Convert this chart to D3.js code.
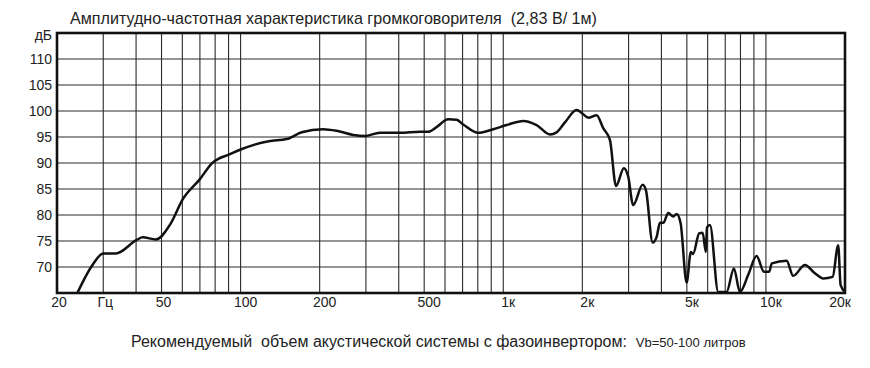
<!DOCTYPE html>
<html>
<head>
<meta charset="utf-8">
<script src="https://cdn.jsdelivr.net/npm/d3@7"></script>
<style>
  body { margin: 0; background: #fff; }
  svg text { font-family: "Liberation Sans", Arial, sans-serif; fill: #222; white-space: pre; }
</style>
</head>
<body>
<svg id="chart"></svg>
<script>
// frequency response, Hz / dB
var freqs = [23.9, 27.3, 30, 33.5, 40.2, 42.4, 47.6, 53.8, 60.2, 70, 77.6, 91.1, 100, 128, 149.7, 170.9,
  206, 232, 268.6, 297, 339, 404, 482, 518, 557, 617, 664, 704, 803, 916, 1030, 1192, 1340, 1506, 1596,
  1717, 1901, 2120, 2267, 2402, 2548, 2687, 2878, 2990, 3124, 3393, 3492, 3704, 3837, 3950, 4070, 4247,
  4437, 4571, 4734, 4989, 5180, 5280, 5573, 5741, 5909, 5965, 6122, 6582, 7082, 7552, 7962, 8563, 9214,
  9826, 10293, 10530, 11985, 12700, 14070, 15360, 16520, 17940, 18840, 19250, 20000];
var levels = [65, 70.4, 72.6, 72.6, 75.2, 75.7, 75.3, 78.1, 83.0, 86.9, 89.9, 91.7, 92.6, 94.2, 94.6, 95.9,
  96.5, 96.2, 95.4, 95.2, 95.8, 95.8, 96.0, 96.0, 96.9, 98.4, 98.3, 97.4, 95.8, 96.5, 97.3, 98.1, 97.3, 95.5, 95.9,
  97.8, 100.2, 98.7, 99.2, 96.7, 94.4, 85.6, 89.0, 87.4, 81.9, 85.8, 84.8, 74.7, 75.8, 78.5, 78.5, 80.4,
  79.7, 80.2, 78.4, 67.0, 72.9, 72.5, 76.5, 76.6, 72.9, 77.6, 78.1, 65.2, 65.2, 69.7, 65.2, 68.5, 72.1,
  69.1, 69.1, 70.7, 71.2, 68.3, 70.4, 68.8, 67.8, 68.1, 74.2, 66.5, 65.2];

var gridFreqs = [30, 40, 50, 60, 70, 80, 90, 100, 200, 300, 400, 500, 600, 700, 800, 900, 1000,
  2000, 3000, 4000, 5000, 6000, 7000, 8000, 9000, 10000];
var xTicks = [20, 30, 50, 100, 200, 500, 1000, 2000, 5000, 10000, 20000];
var xTickLabels = ["20", "Гц", "50", "100", "200", "500", "1к", "2к", "5к", "10к", "20к"];
var yTicks = [70, 75, 80, 85, 90, 95, 100, 105, 110, 115];
var yTickLabels = ["70", "75", "80", "85", "90", "95", "100", "105", "110", "дБ"];

var width = 870, height = 368;
var pLeft = 57, pRight = 845, pTop = 33, pBottom = 293;

var svg = d3.select("#chart").attr("width", width).attr("height", height);

var x = d3.scaleLog().domain([20, 20000]).range([pLeft, pRight]);
var y = d3.scaleLinear().domain([65, 115]).range([pBottom, pTop]);

svg.append("text")
   .attr("x", 70).attr("y", 24)
   .attr("font-size", 16.1)
   .text("Амплитудно-частотная характеристика громкоговорителя  (2,83 В/ 1м)");

var grid = svg.append("g").attr("stroke", "#2a2a2a").attr("stroke-width", 1.1);

grid.selectAll("line.v")
    .data(gridFreqs)
    .enter().append("line")
    .attr("class", "v")
    .attr("x1", function(d){ return x(d); }).attr("x2", function(d){ return x(d); })
    .attr("y1", pTop).attr("y2", pBottom);

grid.selectAll("line.h")
    .data(yTicks.slice(0, -1))
    .enter().append("line")
    .attr("class", "h")
    .attr("x1", pLeft).attr("x2", pRight)
    .attr("y1", function(d){ return y(d); }).attr("y2", function(d){ return y(d); });

svg.append("defs").append("clipPath").attr("id", "plot")
   .append("rect").attr("x", pLeft).attr("y", pTop).attr("width", pRight - pLeft).attr("height", pBottom - pTop);

var pts = freqs.map(function(f, i){ return [f, levels[i]]; });
var line = d3.line()
             .x(function(d){ return x(d[0]); })
             .y(function(d){ return y(d[1]); })
             .curve(d3.curveMonotoneX);

svg.append("path")
   .datum(pts)
   .attr("clip-path", "url(#plot)")
   .attr("d", line)
   .attr("fill", "none")
   .attr("stroke", "#111")
   .attr("stroke-width", 2.5)
   .attr("stroke-linejoin", "round");

svg.append("rect")
   .attr("x", pLeft).attr("y", pTop)
   .attr("width", pRight - pLeft).attr("height", pBottom - pTop)
   .attr("fill", "none").attr("stroke", "#111").attr("stroke-width", 2.6);

// labels from 100 up sit a bit right of their line, the last one pulled inside
svg.selectAll("text.xt")
   .data(xTicks)
   .enter().append("text")
   .attr("class", "xt")
   .attr("x", function(d){ return x(d); })
   .attr("dx", function(d){ return d == 20000 ? -5 : (d >= 100 ? 5 : 2); })
   .attr("y", 307)
   .attr("text-anchor", "middle")
   .attr("font-size", 14)
   .text(function(d, i){ return xTickLabels[i]; });

svg.selectAll("text.yt")
   .data(yTicks)
   .enter().append("text")
   .attr("class", "yt")
   .attr("x", 52)
   .attr("y", function(d){ return y(d) + (d == 115 ? 7 : 5); })
   .attr("text-anchor", "end")
   .attr("font-size", 14)
   .text(function(d, i){ return yTickLabels[i]; });

var note = svg.append("text").attr("x", 131).attr("y", 347).attr("font-size", 16);
note.append("tspan").text("Рекомендуемый  объем акустической системы с фазоинвертором:  ");
note.append("tspan").attr("font-size", 13).text("Vb=50-100 литров");
</script>
</body>
</html>
